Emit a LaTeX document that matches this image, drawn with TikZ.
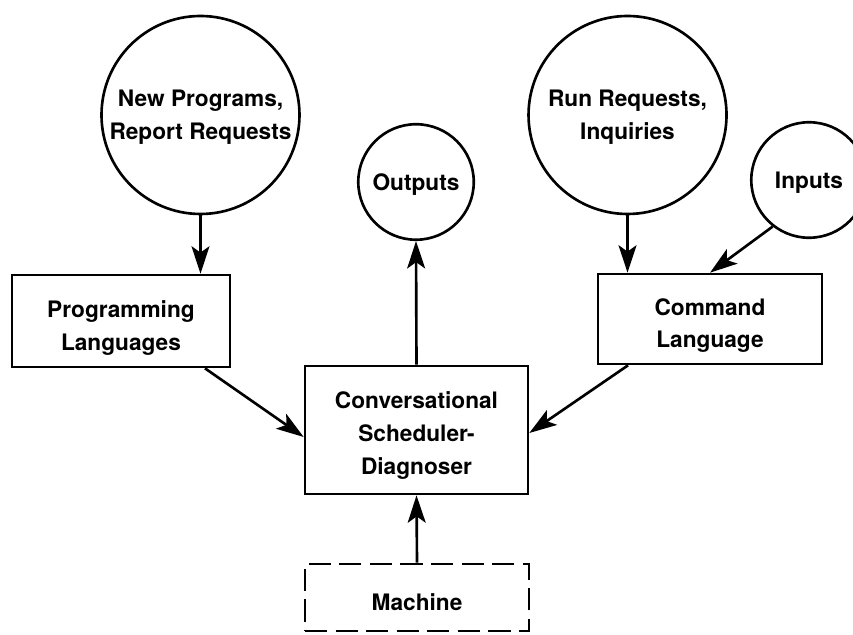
\documentclass[tikz,border=0pt]{standalone}
\usepackage{fontspec}
\setmainfont{TeX Gyre Heros}
\usetikzlibrary{arrows.meta}

\begin{document}
\begin{tikzpicture}
	\tikzset{
	    flow/.style={line width=2.5pt,-{Stealth[length=26pt,width=17pt,inset=6pt]}},
	    box/.style={draw,line width=2.5pt,rectangle,align=center,inner sep=0pt,text depth=0pt,
	        font=\fontsize{21.5}{31}\selectfont\bfseries},
	    bubble/.style={box,circle},
	    bigbubble/.style={bubble,minimum size=6.6cm},   % request circles
	    smallbubble/.style={bubble,minimum size=3.85cm}}
	\useasboundingbox (0,0) rectangle (28.433,21.133);
	% sources and sinks
	\node[bigbubble] (newprog) at (6.683,17.3) {New Programs,\\Report Requests};
	\node[bigbubble] (runreq) at (20.917,17.3) {Run Requests,\\Inquiries};
	\node[smallbubble] (outputs) at (13.867,15.067) {Outputs};
	\node[smallbubble] (inputs) at (26.967,15.133) {Inputs};
	% boxes
	\node[box,minimum width=7.267cm,minimum height=3.067cm] (proglang) at (4.033,10.433) {\rule{0pt}{24pt}Programming\\Languages};
	\node[box,minimum width=7.467cm,minimum height=3cm] (cmdlang) at (23.667,10.5) {\rule{0pt}{24pt}Command\\Language};
	\node[box,minimum width=7.433cm,minimum height=4.267cm] (sched) at (13.883,6.8) {\rule{0pt}{22pt}Conversational\\Scheduler-\\Diagnoser};
	\node[box,dash pattern=on 21pt off 8pt,minimum width=7.467cm,minimum height=2.233cm] (machine) at (13.9,1.217) {\rule{0pt}{25pt}Machine};
	% connectors
	\draw[flow] (newprog.south) -- (newprog.south |- proglang.north);
	\draw[flow] (runreq.south) -- (runreq.south |- cmdlang.north);
	\draw[flow] (inputs.232) -- (cmdlang.north);
	\draw[flow] ([xshift=2.8cm]proglang.south) -- ([yshift=-0.233cm]sched.west);
	\draw[flow] ([xshift=-2.733cm]cmdlang.south) -- ([yshift=-0.1cm]sched.east);
	\draw[flow] (sched.north) -- (outputs.south);
	\draw[flow] (machine.north) -- (sched.south);
\end{tikzpicture}
\end{document}
